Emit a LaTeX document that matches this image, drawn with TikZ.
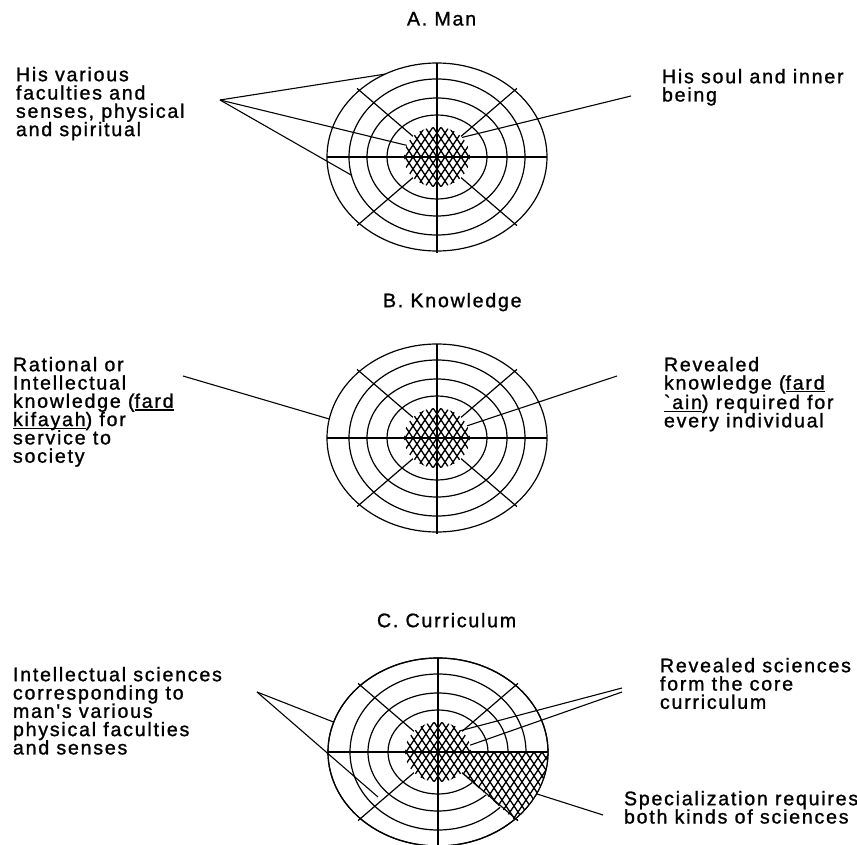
\documentclass[tikz,border=0pt]{standalone}
\usepackage{fontspec}
\usetikzlibrary{shapes.geometric}
\newfontfamily\labfont{Liberation Sans}[LetterSpace=9, FakeBold=1.2]
% underline at a fixed depth below the baseline
\newcommand{\undl}[1]{\setbox0=\hbox{#1}\rlap{\rule[-2.8pt]{\wd0}{1.2pt}}\box0}

\tikzset{
  ring/.style={shape=ellipse, draw=black, line width=1.2pt, inner sep=0pt, outer sep=0pt},
  spoke/.style={draw=black, line width=1.2pt},
  lead/.style={draw=black, line width=1.1pt},
  hatchline/.style={draw=black, line width=1.3pt},
  label/.style={font=\labfont\fontsize{19.6}{18.3}\selectfont, align=left,
                anchor=north west, inner sep=0pt, outer sep=0pt},
  core/.style={shape=ellipse, fill=white, inner sep=0pt, outer sep=0pt,
               minimum width=66pt, minimum height=60pt,
               path picture={\hatchlines{path picture bounding box.center}}}
}

% diamond cross-hatching centred on a point
\newcommand{\hatchlines}[1]{%
  \foreach \k in {-22,...,22}{%
    \draw[hatchline] ([shift={(\k*8-60,90)}]#1) -- ([shift={(\k*8+60,-90)}]#1);
    \draw[hatchline] ([shift={(\k*8+60,90)}]#1) -- ([shift={(\k*8-60,-90)}]#1);
  }}

% concentric rings and diagonal spokes of one target
\newcommand{\drawrings}[3]{%
  \coordinate (#1) at (#2,#3);
  \node[ring, minimum width=220pt, minimum height=188pt] (#1out) at (#1) {};
  \node[ring, minimum width=176pt, minimum height=156pt] (#1r2) at (#1) {};
  \node[ring, minimum width=140pt, minimum height=118pt] (#1r3) at (#1) {};
  \node[ring, minimum width=100pt, minimum height=84pt] (#1r4) at (#1) {};
  \foreach \t in {45,135,225,315}{\draw[spoke] (#1) -- ++(\t:113 and 97);}
}
% hatched centre and the cross through it
\newcommand{\drawcore}[1]{%
  \node[core] (#1core) at (#1) {};
  \draw[spoke] (#1out.west) -- (#1out.east);
  \draw[spoke] (#1out.north) -- ([yshift=-2pt]#1out.south);
}

\begin{document}
\begin{tikzpicture}[x=1pt, y=-1pt]
\fill[white] (0,0) rectangle (857,845);
\useasboundingbox (0,0) rectangle (857,845);

% ---------- A. Man ----------
\node[label] (tA) at (407,12) {A. Man};
\drawrings{A}{437}{157}
\drawcore{A}
\node[label] (Aleft) at (16,67) {His various\\faculties and\\senses, physical\\and spiritual};
\node[label] (Aright) at (662,69) {His soul and inner\\being};
\coordinate (Aapex) at (220,100);
\coordinate (Asoul) at (631,96);
\draw[lead] (Aapex) -- (Aout.122);
\draw[lead] (Aapex) -- (Acore.159);
\draw[lead] (Aapex) -- (Ar2.192);
\draw[lead] (Acore.38) -- (Asoul);

% ---------- B. Knowledge ----------
\node[label] (tB) at (383,293) {B. Knowledge};
\drawrings{B}{437}{438}
\drawcore{B}
\node[label] (Bleft) at (13,357) {Rational or\\Intellectual\\knowledge (\undl{fard}\\\undl{kifayah}) for\\service to\\society};
\node[label] (Bright) at (664,357) {Revealed\\knowledge (\undl{fard}\\\undl{`ain}) required for\\every individual};
\coordinate (Brat) at (183,376);
\coordinate (Brev) at (617,376);
\draw[lead] (Brat) -- (Bout.170);
\draw[lead] (Bcore.22) -- (Brev);

% ---------- C. Curriculum ----------
\node[label] (tC) at (377,613) {C. Curriculum};
\drawrings{C}{438}{752}
% specialization wedge
\begin{scope}
  \clip (C) -- ++(110,0) arc[start angle=0, end angle=46, x radius=110, y radius=94] -- cycle;
  \fill[white] (C) -- ++(110,0) arc[start angle=0, end angle=46, x radius=110, y radius=94] -- cycle;
  \hatchlines{C}
\end{scope}
\draw[spoke] (C) -- ++(45:113 and 97);
\draw[spoke] (Cout.center) ellipse[x radius=110, y radius=94];
\drawcore{C}
\draw[spoke, line width=1.8pt] (Ccore.east) -- (Cout.east);
\node[label] (Cleft) at (13,667) {Intellectual sciences\\corresponding to\\man's various\\physical faculties\\and senses};
\node[label] (Cright) at (660,658) {Revealed sciences\\form the core\\curriculum};
\node[label] (Cspecl) at (624,791) {Specialization requires\\both kinds of sciences};
\coordinate (Capex) at (257,692);
\coordinate (Cfac) at (378,797);
\coordinate (Crev) at (622,688);
\coordinate (Crevb) at (622,692);
\coordinate (Cspec) at (603,815);
\draw[lead] (Capex) -- (Cout.164);
\draw[lead] (Capex) -- (Cfac);
\draw[lead] (Ccore.43) -- (Crev);
\draw[lead] (Ccore.12) -- (Crevb);
\draw[lead] (Cout.-23) -- (Cspec);
\end{tikzpicture}
\end{document}
